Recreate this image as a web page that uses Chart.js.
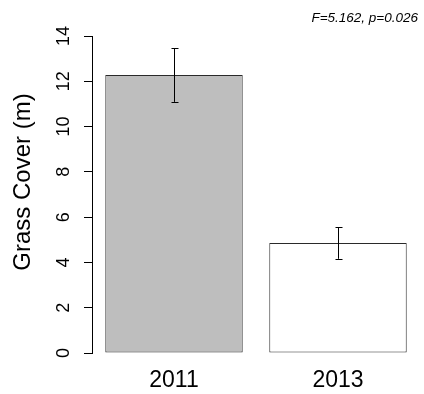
<!DOCTYPE html>
<html>
<head>
<meta charset="utf-8">
<script src="https://cdn.jsdelivr.net/npm/chart.js@4/dist/chart.umd.min.js"></script>
<style>
html,body{margin:0;padding:0;background:#fff;}
#wrap{width:424px;height:394px;}
</style>
</head>
<body>
<div id="wrap"><canvas id="c" width="424" height="394"></canvas></div>
<script>
const categories = ['2011', '2013'];
const means = [12.28, 4.86];
const errors = [1.19, 0.70];
const barColors = ['#bebebe', '#ffffff'];
const yAxisTitle = 'Grass Cover (m)';
const statText = 'F=5.162, p=0.026';
const yMin = 0, yMax = 14, yStep = 2;

const errorBars = {
  id: 'errorBars',
  afterDatasetsDraw(chart) {
    const ctx = chart.ctx;
    const y = chart.scales.y;
    const meta = chart.getDatasetMeta(0);
    ctx.save();
    ctx.strokeStyle = '#000';
    ctx.lineWidth = 1;
    meta.data.forEach((bar, i) => {
      const x = Math.round(bar.x) + 0.5;
      const top = y.getPixelForValue(means[i] + errors[i]);
      const bot = y.getPixelForValue(means[i] - errors[i]);
      ctx.beginPath();
      ctx.moveTo(x, top); ctx.lineTo(x, bot);
      ctx.moveTo(x - 3, Math.round(top) + 0.5); ctx.lineTo(x + 4, Math.round(top) + 0.5);
      ctx.moveTo(x - 3, Math.round(bot) + 0.5); ctx.lineTo(x + 4, Math.round(bot) + 0.5);
      ctx.stroke();
    });
    ctx.restore();
  }
};

const extraText = {
  id: 'extraText',
  afterDraw(chart) {
    const ctx = chart.ctx;
    ctx.save();
    ctx.fillStyle = '#000';
    ctx.font = 'italic 13.5px "Liberation Sans", Arial, sans-serif';
    ctx.textAlign = 'right';
    ctx.textBaseline = 'middle';
    ctx.fillText(statText, 418, 18);
    ctx.translate(23, 182);
    ctx.rotate(-Math.PI / 2);
    ctx.font = '24px "Liberation Sans", Arial, sans-serif';
    ctx.textAlign = 'center';
    ctx.textBaseline = 'middle';
    ctx.fillText(yAxisTitle, 0, 0);
    ctx.restore();
  }
};

new Chart(document.getElementById('c'), {
  type: 'bar',
  data: {
    labels: categories,
    datasets: [{
      data: means,
      backgroundColor: barColors,
      borderColor: '#2a2a2a',
      borderWidth: 1,
      borderSkipped: false,
      categoryPercentage: 1.0,
      barPercentage: 0.838
    }]
  },
  options: {
    responsive: false,
    animation: false,
    devicePixelRatio: 1,
    layout: { padding: { left: 0, top: 36, right: 4, bottom: 0 } },
    plugins: { legend: { display: false }, tooltip: { enabled: false }, title: { display: false } },
    scales: {
      x: {
        grid: { display: false, drawTicks: false },
        border: { display: false },
        ticks: { color: '#000', font: { family: '"Liberation Sans", Arial, sans-serif', size: 23 }, padding: 14, maxRotation: 0 },
        afterFit(scale) { scale.height = 41; }
      },
      y: {
        min: yMin, max: yMax,
        grid: { drawOnChartArea: false, drawTicks: true, tickLength: 8, tickColor: '#000' },
        border: { display: true, color: '#000', width: 1 },
        ticks: {
          stepSize: yStep,
          color: '#000',
          font: { family: '"Liberation Sans", Arial, sans-serif', size: 18 },
          minRotation: 90, maxRotation: 90,
          crossAlign: 'center',
          padding: 10
        },
        afterFit(scale) { scale.width = 92; }
      }
    }
  },
  plugins: [errorBars, extraText]
});
</script>
</body>
</html>
